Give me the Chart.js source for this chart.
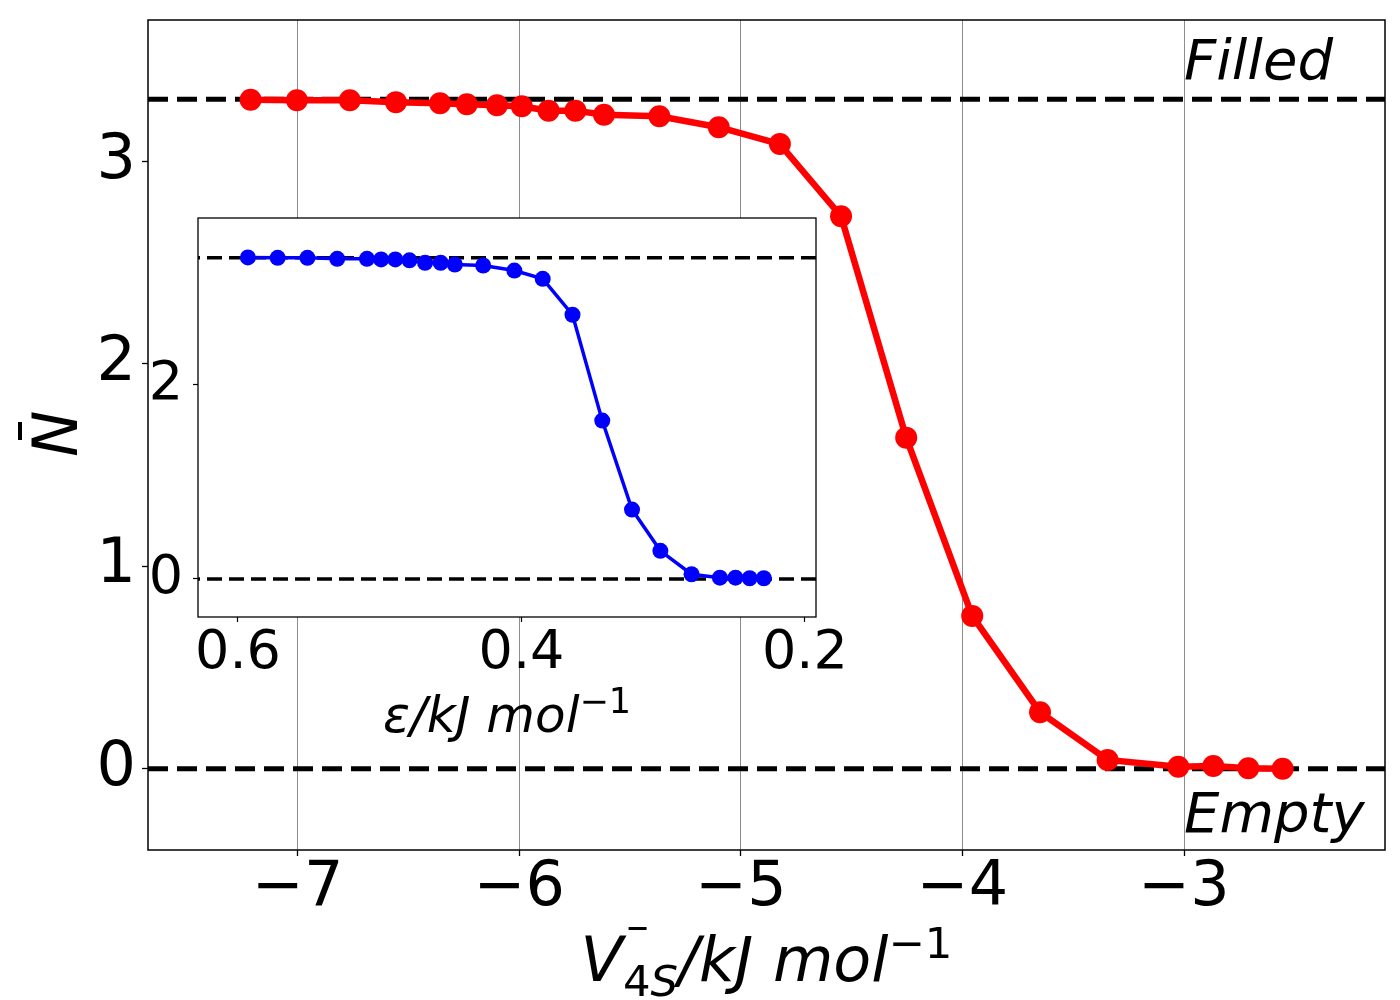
<!DOCTYPE html>
<html>
<head>
<meta charset="utf-8">
<script src="https://cdn.jsdelivr.net/npm/chart.js@4.4.0/dist/chart.umd.min.js"></script>
<style>
  body { margin: 0; background: #fff; }
  #wrap { position: relative; width: 1400px; height: 1000px; }
  #main { position: absolute; left: 0; top: 0; }
  #inset { position: absolute; left: 120px; top: 200px; }
</style>
</head>
<body>
<div id="wrap">
  <canvas id="main" width="1400" height="1000"></canvas>
  <canvas id="inset" width="740" height="560"></canvas>
</div>
<script>
// main panel: occupancy vs bias potential
var vBias = [-7.213, -7.004, -6.765, -6.557, -6.358, -6.237, -6.101, -5.989, -5.868, -5.747, -5.618, -5.368,
             -5.100, -4.824, -4.548, -4.254, -3.956, -3.650, -3.345, -3.026, -2.868, -2.710, -2.555];
var nMain = [3.306, 3.303, 3.303, 3.294, 3.289, 3.284, 3.279, 3.274, 3.252, 3.252, 3.232, 3.224,
             3.170, 3.087, 2.730, 1.636, 0.755, 0.279, 0.043, 0.009, 0.013, 0.002, 0.000];

// inset: occupancy vs epsilon
var eps = [0.593, 0.572, 0.551, 0.530, 0.509, 0.499, 0.489, 0.479, 0.468, 0.457, 0.447, 0.427,
           0.405, 0.385, 0.364, 0.343, 0.322, 0.302, 0.280, 0.260, 0.249, 0.239, 0.229];
var nInset = [3.310, 3.306, 3.306, 3.296, 3.296, 3.290, 3.290, 3.280, 3.255, 3.255, 3.237, 3.227,
              3.175, 3.090, 2.720, 1.630, 0.714, 0.289, 0.048, 0.013, 0.013, 0.007, 0.007];

var levelFilled = 3.308;
var levelEmpty = 0;

var mainXRange = [-7.676, -2.093];
var mainYRange = [-0.402, 3.70];
var mainXTicks = [-7, -6, -5, -4, -3];
var mainYTicks = [0, 1, 2, 3];

var insetXRange = [0.1922, 0.6282];
var insetYRange = [-0.392, 3.716];
var insetXTicks = [0.6, 0.4, 0.2];
var insetYTicks = [0, 2];

var noteText = ['Filled', 'Empty'];
var noteX = [-3, -3];
var noteY = [3.41, -0.312];

Chart.defaults.font.family = "'DejaVu Sans'";
Chart.defaults.color = '#000';

function pts(xs, ys) {
  return xs.map(function(x, i) { return { x: x, y: ys[i] }; });
}
function minus(v) {
  return String(v).replace('-', '\u2212');
}
function setTicks(list) {
  return function(scale) {
    scale.ticks = list.map(function(v) { return { value: v }; });
  };
}
// fixed axis thickness, and no extra room for overhanging labels
function fixSize(h, w) {
  return function(s) {
    if (h) s.height = h;
    if (w) s.width = w;
    s.paddingTop = 0; s.paddingBottom = 0; s.paddingLeft = 0; s.paddingRight = 0;
  };
}

// white plot face + black frame round the chart area
var framePlugin = {
  id: 'frame',
  beforeDraw: function(chart, args, opts) {
    var a = chart.chartArea, ctx = chart.ctx;
    if (opts.fill) {
      ctx.save();
      ctx.fillStyle = '#fff';
      ctx.fillRect(a.left, a.top, a.right - a.left, a.bottom - a.top);
      ctx.restore();
    }
  },
  afterDraw: function(chart, args, opts) {
    var a = chart.chartArea, ctx = chart.ctx;
    ctx.save();
    ctx.strokeStyle = '#000';
    ctx.lineWidth = opts.width || 1.5;
    ctx.strokeRect(a.left, a.top, a.right - a.left, a.bottom - a.top);
    ctx.restore();
  }
};

// draws a run of text pieces: [text, scale, baseline shift px, italic]
function drawRun(ctx, parts, x, y, size) {
  var cx = x;
  parts.forEach(function(p) {
    ctx.font = (p[3] ? 'italic ' : '') + (size * p[1]) + "px 'DejaVu Sans'";
    ctx.fillText(p[0], cx, y + p[2]);
    cx += ctx.measureText(p[0]).width;
  });
  return cx - x;
}
function runWidth(ctx, parts, size) {
  var w = 0;
  parts.forEach(function(p) {
    ctx.font = (p[3] ? 'italic ' : '') + (size * p[1]) + "px 'DejaVu Sans'";
    w += ctx.measureText(p[0]).width;
  });
  return w;
}

var mainLabels = {
  id: 'mainLabels',
  afterDraw: function(chart) {
    var ctx = chart.ctx, a = chart.chartArea;
    var xs = chart.scales.x, ys = chart.scales.y;
    ctx.save();
    ctx.fillStyle = '#000';
    ctx.textAlign = 'left';
    ctx.textBaseline = 'alphabetic';

    // Filled / Empty notes
    ctx.font = "italic 56px 'DejaVu Sans'";
    noteText.forEach(function(t, i) {
      ctx.fillText(t, xs.getPixelForValue(noteX[i]), ys.getPixelForValue(noteY[i]));
    });

    // x title: V-bar_4S / kJ mol^-1
    var size = 62;
    var parts = [['V', 1, 0, true], ['4', 0.7, 15, false], ['S', 0.7, 15, true],
                 ['/kJ mol', 1, 0, true], ['\u22121', 0.7, -23, false]];
    var w = runWidth(ctx, parts, size);
    var x0 = (a.left + a.right) / 2 - w / 2;
    var base = 981;
    drawRun(ctx, parts, x0, base, size);
    ctx.fillRect(x0 + 48, base - 54, 18, 3);

    // y title: N-bar, rotated
    ctx.translate(77, (a.top + a.bottom) / 2 + 22);
    ctx.rotate(-Math.PI / 2);
    ctx.font = "italic 62px 'DejaVu Sans'";
    ctx.fillText('N', 0, 0);
    ctx.fillRect(17, -59, 18, 4);
    ctx.restore();
  }
};

var insetLabels = {
  id: 'insetLabels',
  afterDraw: function(chart) {
    var ctx = chart.ctx, a = chart.chartArea;
    ctx.save();
    ctx.fillStyle = '#000';
    ctx.textBaseline = 'alphabetic';
    var size = 50;
    var parts = [['\u03b5/kJ mol', 1, 0, true], ['\u22121', 0.7, -19, false]];
    var w = runWidth(ctx, parts, size);
    drawRun(ctx, parts, (a.left + a.right) / 2 - w / 2, 532, size);
    ctx.restore();
  }
};

new Chart(document.getElementById('main'), {
  type: 'line',
  data: {
    datasets: [
      {
        data: pts(vBias, nMain),
        borderColor: '#ff0000',
        backgroundColor: '#ff0000',
        borderWidth: 6.5,
        pointRadius: 11,
        pointBorderWidth: 0,
        tension: 0
      },
      {
        data: pts(mainXRange, [levelFilled, levelFilled]),
        borderColor: '#000',
        borderWidth: 5,
        borderDash: [20, 9],
        pointRadius: 0
      },
      {
        data: pts(mainXRange, [levelEmpty, levelEmpty]),
        borderColor: '#000',
        borderWidth: 5,
        borderDash: [20, 9],
        pointRadius: 0
      }
    ]
  },
  options: {
    responsive: false,
    animation: false,
    devicePixelRatio: 1,
    layout: { padding: { top: 20, right: 15, left: 0, bottom: 0 } },
    plugins: { legend: { display: false }, tooltip: { enabled: false }, frame: { fill: false, width: 1.5 } },
    scales: {
      x: {
        type: 'linear',
        min: mainXRange[0],
        max: mainXRange[1],
        afterBuildTicks: setTicks(mainXTicks),
        afterFit: fixSize(150, 0),
        border: { display: false },
        grid: { color: '#8c8c8c', lineWidth: 1, drawTicks: true, tickLength: 6, tickColor: '#000', tickWidth: 1.3 },
        ticks: { font: { size: 62 }, padding: -4, maxRotation: 0, callback: function(v) { return minus(v); } }
      },
      y: {
        type: 'linear',
        min: mainYRange[0],
        max: mainYRange[1],
        afterBuildTicks: setTicks(mainYTicks),
        afterFit: fixSize(0, 148),
        border: { display: false },
        grid: { drawOnChartArea: false, drawTicks: true, tickLength: 6, tickColor: '#000', tickWidth: 1.3 },
        ticks: { font: { size: 62 }, padding: 6, callback: function(v) { return minus(v); } }
      }
    }
  },
  plugins: [framePlugin, mainLabels]
});

new Chart(document.getElementById('inset'), {
  type: 'line',
  data: {
    datasets: [
      {
        data: pts(eps, nInset),
        borderColor: '#0000ff',
        backgroundColor: '#0000ff',
        borderWidth: 3.5,
        pointRadius: 8,
        pointBorderWidth: 0,
        tension: 0
      },
      {
        data: pts(insetXRange, [levelFilled, levelFilled]),
        borderColor: '#000',
        borderWidth: 3.5,
        borderDash: [15, 7],
        pointRadius: 0
      },
      {
        data: pts(insetXRange, [levelEmpty, levelEmpty]),
        borderColor: '#000',
        borderWidth: 3.5,
        borderDash: [15, 7],
        pointRadius: 0
      }
    ]
  },
  options: {
    responsive: false,
    animation: false,
    devicePixelRatio: 1,
    layout: { padding: { top: 18, right: 44, left: 0, bottom: 0 } },
    plugins: { legend: { display: false }, tooltip: { enabled: false }, frame: { fill: true, width: 1.3 } },
    scales: {
      x: {
        type: 'linear',
        reverse: true,
        min: insetXRange[0],
        max: insetXRange[1],
        afterBuildTicks: setTicks(insetXTicks),
        afterFit: fixSize(143, 0),
        border: { display: false },
        grid: { drawOnChartArea: false, drawTicks: true, tickLength: 5, tickColor: '#000', tickWidth: 1.2 },
        ticks: { font: { size: 54 }, padding: 0, maxRotation: 0, callback: function(v) { return v.toFixed(1); } }
      },
      y: {
        type: 'linear',
        min: insetYRange[0],
        max: insetYRange[1],
        afterBuildTicks: setTicks(insetYTicks),
        afterFit: fixSize(0, 78),
        border: { display: false },
        grid: { drawOnChartArea: false, drawTicks: true, tickLength: 5, tickColor: '#000', tickWidth: 1.2 },
        ticks: { font: { size: 54 }, padding: 10 }
      }
    }
  },
  plugins: [framePlugin, insetLabels]
});
</script>
</body>
</html>
